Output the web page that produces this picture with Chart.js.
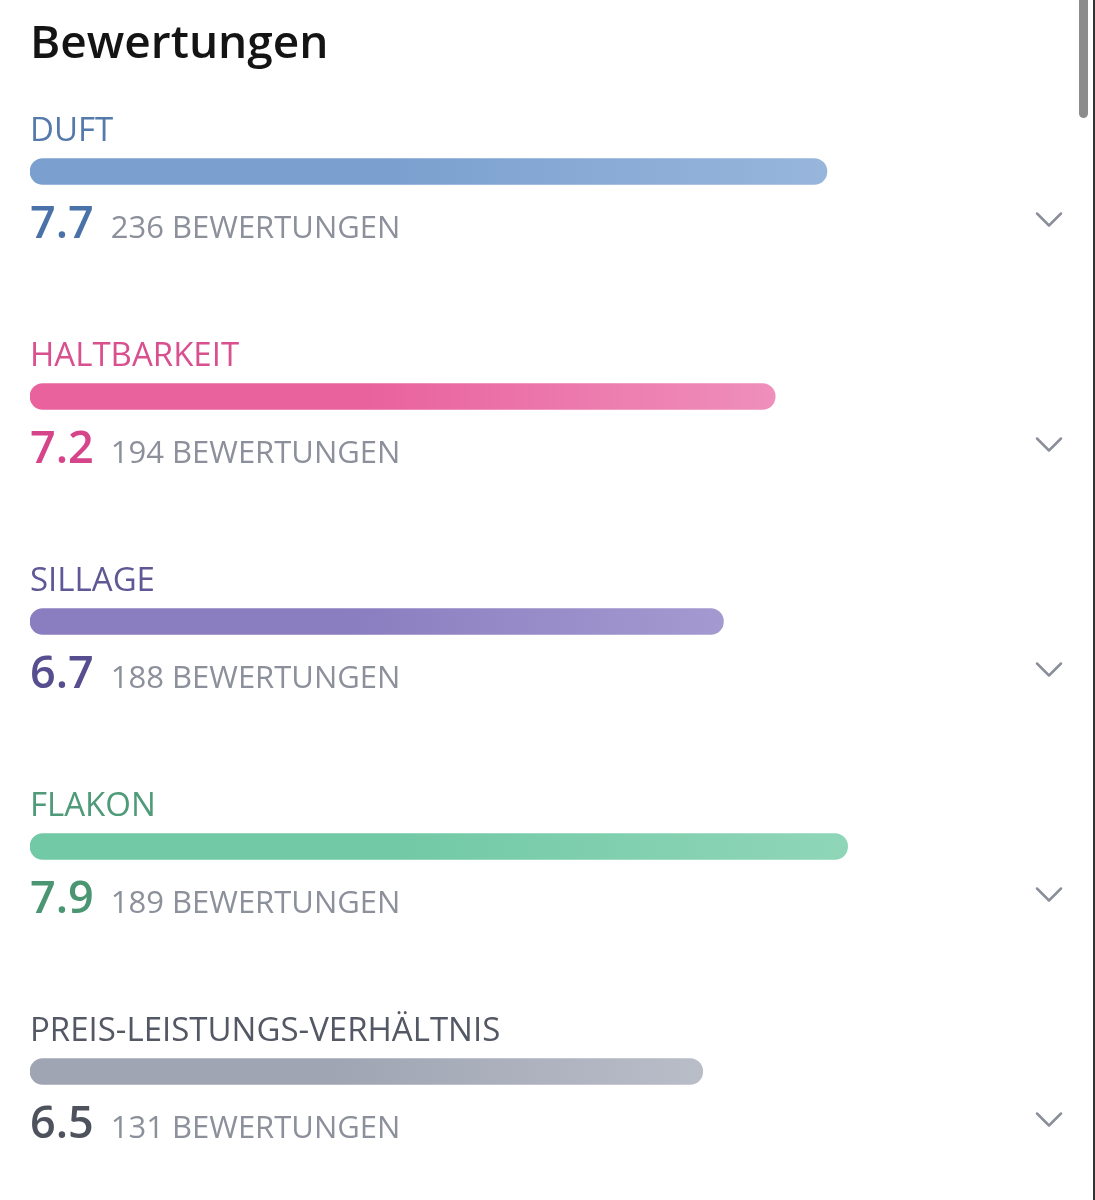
<!DOCTYPE html>
<html>
<head>
<meta charset="utf-8">
<script src="https://cdn.jsdelivr.net/npm/chart.js@4"></script>
<style>
  html, body { margin: 0; padding: 0; background: #fff; }
  #wrap { position: relative; width: 1095px; height: 1200px; overflow: hidden; }
  #scroll { position: absolute; left: 1079px; top: -6px; width: 9px; height: 124px; border-radius: 5px; background: #8c8c8c; }
  #edge { position: absolute; left: 1093px; top: 0; width: 2px; height: 1200px; background: #333; }
</style>
</head>
<body>
<div id="wrap">
  <canvas id="ratings" width="1095" height="1200"></canvas>
  <div id="scroll"></div>
  <div id="edge"></div>
</div>
<script>
// Bewertungen – Werte
const categories = ['DUFT', 'HALTBARKEIT', 'SILLAGE', 'FLAKON', 'PREIS-LEISTUNGS-VERHÄLTNIS'];
const scores = [7.7, 7.2, 6.7, 7.9, 6.5];
const counts = [236, 194, 188, 189, 131];
const maxScore = 10;

// label / bar start / bar end / value colour
const labelColors = ['#5479ab', '#d9508f', '#5f5896', '#4f9a78', '#535864'];
const barStart = ['#7ba0cf', '#e9629e', '#8a7dc0', '#72c9a5', '#a0a5b3'];
const barEnd = ['#98b6dc', '#ef8fbb', '#a49ad0', '#8fd6b8', '#b9bdc8'];
const valueColors = ['#4a72a8', '#d6448a', '#564e8e', '#4b9672', '#4d525d'];

const FONT = '"Open Sans", "Noto Sans", sans-serif';

function barColor(c) {
  const i = c.dataIndex || 0;
  const xs = c.chart.scales.x;
  if (!xs) return barStart[i];
  const x0 = xs.getPixelForValue(0);
  const x1 = xs.getPixelForValue(scores[i]);
  if (!isFinite(x0) || !isFinite(x1) || x1 <= x0) return barStart[i];
  const g = c.chart.ctx.createLinearGradient(x0, 0, x1, 0);
  g.addColorStop(0, barStart[i]);
  g.addColorStop(0.45, barStart[i]);
  g.addColorStop(1, barEnd[i]);
  return g;
}

const textPlugin = {
  id: 'ratingText',
  afterDatasetsDraw(chart) {
    const ctx = chart.ctx;
    const meta = chart.getDatasetMeta(0);
    const left = chart.chartArea.left;
    ctx.save();
    ctx.textBaseline = 'alphabetic';
    ctx.textAlign = 'left';

    ctx.fillStyle = '#141414';
    ctx.font = '600 46px ' + FONT;
    ctx.fillText('Bewertungen', 30, 58);

    meta.data.forEach((bar, i) => {
      const y = bar.y;
      ctx.fillStyle = labelColors[i];
      ctx.font = '400 33px ' + FONT;
      ctx.fillText(categories[i], left, y - 31);

      ctx.fillStyle = valueColors[i];
      ctx.font = '600 45px ' + FONT;
      const v = scores[i].toFixed(1);
      ctx.fillText(v, left, y + 66);
      const w = ctx.measureText(v).width;

      ctx.fillStyle = '#8c909b';
      ctx.font = '400 31px ' + FONT;
      ctx.fillText(counts[i] + ' BEWERTUNGEN', left + w + 17, y + 66);

      // chevron
      ctx.strokeStyle = '#8b8f99';
      ctx.lineWidth = 2.5;
      ctx.lineCap = 'round';
      ctx.lineJoin = 'round';
      ctx.beginPath();
      ctx.moveTo(1037, y + 42);
      ctx.lineTo(1049, y + 54);
      ctx.lineTo(1061, y + 42);
      ctx.stroke();
    });
    ctx.restore();
  }
};

new Chart(document.getElementById('ratings'), {
  type: 'bar',
  data: {
    labels: categories,
    datasets: [{
      data: scores,
      backgroundColor: barColor,
      borderRadius: 13,
      borderSkipped: false,
      barThickness: 26
    }]
  },
  options: {
    indexAxis: 'y',
    responsive: false,
    animation: false,
    layout: { padding: { left: 30, right: 30, top: 59, bottom: 16 } },
    scales: {
      x: { min: 0, max: maxScore, display: false },
      y: { display: false }
    },
    plugins: {
      legend: { display: false },
      tooltip: { enabled: false }
    }
  },
  plugins: [textPlugin]
});
</script>
</body>
</html>
